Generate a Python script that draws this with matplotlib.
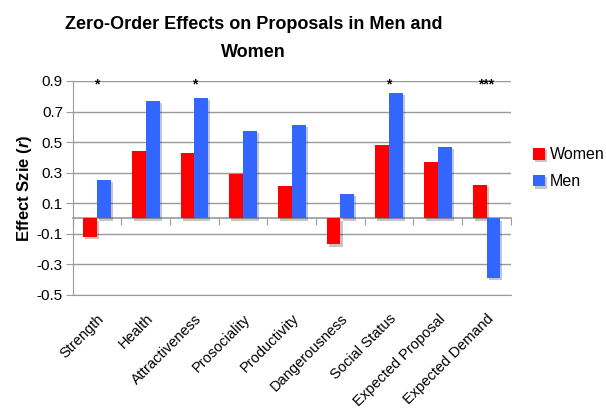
import numpy as np
import matplotlib.pyplot as plt
import matplotlib.patheffects as pe

plt.rcParams['font.family'] = ['Liberation Sans', 'DejaVu Sans']
plt.rcParams['mathtext.fontset'] = 'custom'
plt.rcParams['mathtext.it'] = 'Liberation Sans:italic:bold'

categorias = ["Strength", "Health", "Attractiveness", "Prosociality", "Productivity",
              "Dangerousness", "Social Status", "Expected Proposal", "Expected Demand"]
mujeres = [-0.12, 0.44, 0.43, 0.29, 0.21, -0.17, 0.48, 0.37, 0.22]
hombres = [0.25, 0.77, 0.79, 0.57, 0.61, 0.16, 0.82, 0.47, -0.39]
estrellas = ["*", "", "*", "", "", "", "*", "", "***"]
yticks = [0.9, 0.7, 0.5, 0.3, 0.1, -0.1, -0.3, -0.5]

fig = plt.figure(figsize=(6.06, 4.09), dpi=100)
ax = fig.add_axes([0.120, 0.279, 0.723, 0.523])

x = np.arange(len(categorias))
ancho = 0.285
sombra = [pe.SimplePatchShadow(offset=(1.5, -1.5), alpha=0.25), pe.Normal()]
b1 = ax.bar(x - ancho / 2, mujeres, ancho, color="#ff0000", label="Women", zorder=3)
b2 = ax.bar(x + ancho / 2, hombres, ancho, color="#3366ff", label="Men", zorder=3)
for b in list(b1) + list(b2):
    b.set_path_effects(sombra)

for xi, s in zip(x, estrellas):
    if s:
        ax.text(xi, 0.875, s, ha="center", va="center", fontsize=10,
                fontweight="bold", zorder=4)

ax.set_xlim(-0.5, len(categorias) - 0.5)
ax.set_ylim(-0.5, 0.9)
ax.set_yticks(yticks)
ax.set_yticklabels([f"{v:.1f}" for v in yticks], fontsize=11)
ax.yaxis.grid(True, color="#9a9a9a", linewidth=1, zorder=0)
ax.tick_params(axis="y", length=5, color="#9a9a9a", pad=2)

ax.set_xticks(x)
ax.set_xticklabels(categorias, rotation=45, ha="right", rotation_mode="anchor", fontsize=10.5)
ax.tick_params(axis="x", length=0, pad=12)

for lado in ["top", "right"]:
    ax.spines[lado].set_visible(False)
ax.spines["left"].set_color("#9a9a9a")
ax.spines["bottom"].set_color("#9a9a9a")

# linea del cero con marcas entre categorias
eje0 = ax.secondary_xaxis(0.5 / 1.4)
eje0.set_xticks(np.arange(len(categorias) + 1) - 0.5)
eje0.set_xticklabels([])
eje0.tick_params(length=5, color="#9a9a9a", direction="out")
eje0.spines["bottom"].set_color("#9a9a9a")
eje0.spines["bottom"].set_linewidth(1.2)

ax.set_ylabel(r"Effect Szie ($\mathit{r}$)", fontsize=12, fontweight="bold", labelpad=2)

fig.text(0.418, 0.905, "Zero-Order Effects on Proposals in Men and\nWomen",
         ha="center", va="center", fontsize=13, fontweight="bold", linespacing=1.85)

fig.legend(handles=[b1, b2], labels=["Women", "Men"], loc="upper left",
           bbox_to_anchor=(0.880, 0.64), frameon=False, fontsize=11.5, borderpad=0,
           borderaxespad=0, handlelength=0.75, handleheight=0.75, handletextpad=0.3,
           labelspacing=0.75)

plt.savefig("out.png", dpi=100)
